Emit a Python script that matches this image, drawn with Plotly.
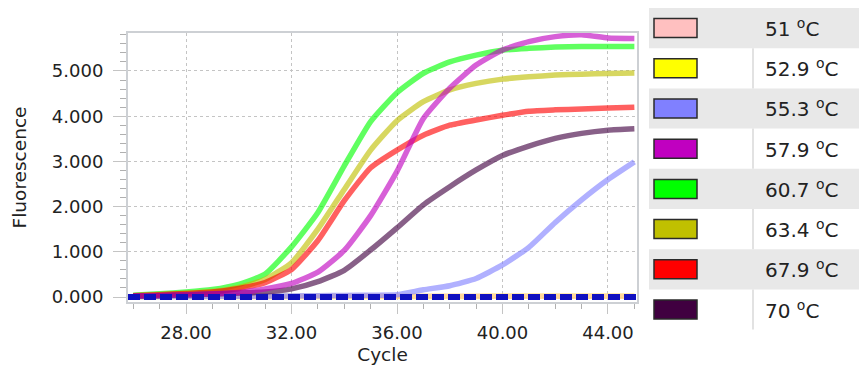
import plotly.graph_objects as go

# qPCR amplification curves, one per annealing temperature
cycles = list(range(26, 46))

temps = ["51", "52.9", "55.3", "57.9", "60.7", "63.4", "67.9", "70"]
swatch_colors = ["#ffc0c0", "#ffff00", "#8080ff", "#c000c0",
                 "#00ff00", "#c0c000", "#ff0000", "#400040"]

f_51 = [0.010, 0.010, 0.012, 0.012, 0.012, 0.014, 0.014, 0.014, 0.015, 0.015,
        0.016, 0.016, 0.016, 0.017, 0.017, 0.018, 0.018, 0.018, 0.019, 0.019]
f_52_9 = [0.008, 0.009, 0.010, 0.010, 0.011, 0.011, 0.012, 0.012, 0.013, 0.013,
          0.013, 0.014, 0.014, 0.014, 0.015, 0.015, 0.015, 0.016, 0.016, 0.016]
f_55_3 = [0.005, 0.010, 0.010, 0.015, 0.015, 0.020, 0.025, 0.030, 0.035, 0.040,
          0.050, 0.160, 0.250, 0.410, 0.710, 1.100, 1.650, 2.150, 2.600, 2.990]
f_57_9 = [0.020, 0.035, 0.050, 0.070, 0.100, 0.180, 0.300, 0.550, 1.030, 1.800,
          2.780, 3.950, 4.620, 5.130, 5.465, 5.650, 5.760, 5.800, 5.730, 5.720]
f_60_7 = [0.040, 0.075, 0.110, 0.165, 0.280, 0.510, 1.110, 1.870, 2.900, 3.880,
          4.520, 4.950, 5.200, 5.350, 5.460, 5.500, 5.530, 5.540, 5.540, 5.540]
f_63_4 = [0.030, 0.055, 0.085, 0.120, 0.210, 0.390, 0.760, 1.500, 2.380, 3.250,
          3.900, 4.320, 4.580, 4.725, 4.820, 4.870, 4.910, 4.930, 4.945, 4.955]
f_67_9 = [0.030, 0.050, 0.080, 0.110, 0.190, 0.320, 0.610, 1.250, 2.130, 2.860,
          3.250, 3.580, 3.800, 3.915, 4.020, 4.110, 4.140, 4.160, 4.180, 4.200]
f_70 = [0.015, 0.030, 0.045, 0.065, 0.090, 0.110, 0.180, 0.340, 0.590, 1.040,
        1.530, 2.040, 2.440, 2.810, 3.130, 3.340, 3.510, 3.620, 3.690, 3.720]

series = {
    "51": f_51, "52.9": f_52_9, "55.3": f_55_3, "57.9": f_57_9,
    "60.7": f_60_7, "63.4": f_63_4, "67.9": f_67_9, "70": f_70,
}
threshold = 0.0

x_ticks = [28, 32, 36, 40, 44]
y_ticks = [0, 1, 2, 3, 4, 5]

W, H = 859, 369
L, R, T, B = 128, 222, 33, 67
PW, PH = W - L - R, H - T - B
FONT = "DejaVu Sans"


def px(x):
    return (x - L) / PW


def py(y):
    return (H - B - y) / PH


fig = go.Figure()

# draw order: flat curves first, magenta last so it sits over the crossings
order = ["52.9", "51", "55.3", "60.7", "63.4", "67.9", "70", "57.9"]
for t in order:
    c = swatch_colors[temps.index(t)]
    fig.add_trace(go.Scatter(
        x=cycles, y=series[t], mode="lines", name=t + " ºC",
        line=dict(color=c, width=5.5, shape="spline", smoothing=0.5),
        opacity=0.62, showlegend=False, hoverinfo="skip",
    ))

shapes = [
    # threshold line
    dict(type="line", xref="paper", yref="y", x0=0, x1=1, y0=threshold, y1=threshold,
         line=dict(color="#1010c0", width=6, dash="12px,4px"), layer="above"),
]
annotations = []

# legend table on the right
row_top, row_h = 8, 40.2
for i, (t, c) in enumerate(zip(temps, swatch_colors)):
    y0 = row_top + i * row_h
    y1 = y0 + row_h
    yc = y0 + row_h / 2
    if i % 2 == 0:
        shapes.append(dict(type="rect", xref="paper", yref="paper",
                           x0=px(649), x1=px(860), y0=py(y1), y1=py(y0),
                           fillcolor="#e8e8e8", line=dict(width=0), layer="below"))
    else:
        shapes.append(dict(type="line", xref="paper", yref="paper",
                           x0=px(753), x1=px(753), y0=py(y1), y1=py(y0),
                           line=dict(color="#e2e2e2", width=2)))
    shapes.append(dict(type="rect", xref="paper", yref="paper",
                       x0=px(654), x1=px(697), y0=py(yc + 9.5), y1=py(yc - 9.5),
                       fillcolor=c, line=dict(color="#2a2a2a", width=1.5)))
    annotations.append(dict(
        xref="paper", yref="paper", x=px(763), y=py(yc),
        xanchor="left", yanchor="middle", showarrow=False,
        text=t + " <sup>o</sup>C",
        font=dict(family=FONT, size=20, color="#222222"),
    ))

fig.update_layout(
    width=W, height=H,
    margin=dict(l=L, r=R, t=T, b=B),
    paper_bgcolor="white", plot_bgcolor="white",
    font=dict(family=FONT, size=18, color="#222222"),
    shapes=shapes, annotations=annotations,
    showlegend=False,
)

fig.update_xaxes(
    range=[25.8, 45.1], tickvals=x_ticks, ticktext=[f"{v:.2f}" for v in x_ticks],
    showgrid=True, gridcolor="#c4c4c4", griddash="dot", gridwidth=1,
    showline=True, mirror=True, linecolor="#cdd0d4", linewidth=2,
    ticks="outside", ticklen=10, tickcolor="#c4c4c4", tickwidth=1,
    minor=dict(dtick=1, ticks="outside", ticklen=5, tickcolor="#b0b0b0", showgrid=False),
    zeroline=False, ticklabelstandoff=3, automargin=False,
    title=dict(text="Cycle", font=dict(family=FONT, size=18.5), standoff=6),
)
fig.update_yaxes(
    range=[-0.11, 5.84], tickvals=y_ticks, ticktext=[f"{v:.3f}" for v in y_ticks],
    showgrid=True, gridcolor="#c4c4c4", griddash="dot", gridwidth=1,
    showline=True, mirror=True, linecolor="#cdd0d4", linewidth=2,
    ticks="outside", ticklen=13, tickcolor="#c4c4c4", tickwidth=1,
    minor=dict(dtick=0.2, ticks="outside", ticklen=6, tickcolor="#b0b0b0", showgrid=False),
    zeroline=False, ticklabelstandoff=6, automargin=False,
    title=dict(text="Fluorescence", font=dict(family=FONT, size=18.5), standoff=20),
)

fig.write_html("out.html")
